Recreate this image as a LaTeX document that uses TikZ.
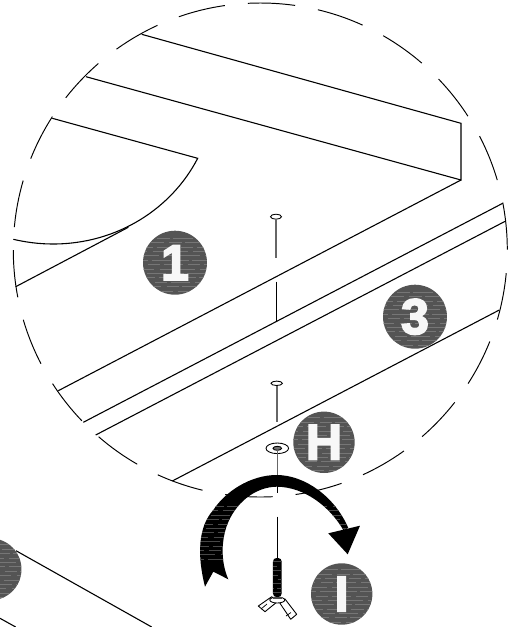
\documentclass[tikz,border=0pt]{standalone}
\usepackage{fontspec}
\usepackage{xcolor}
\usepackage{tikz}
\newfontfamily\badgefont[BoldFeatures={FakeBold=3.4}]{Liberation Sans}
\definecolor{badgegray}{RGB}{84,84,84}
\definecolor{streakgray}{RGB}{118,118,118}
\definecolor{arrowstreak}{RGB}{72,72,72}

\begin{document}
\begin{tikzpicture}[
  x=0.02cm, y=-0.02cm,
  edge/.style={line width=0.62pt, black},
  lens/.style={line width=0.55pt, black, dash pattern=on 0.9484cm off 0.4626cm, dash phase=0.9484cm},
  pin/.style={line width=0.8pt, black!60},
  streaks/.style={path picture={
    \foreach \s in {-16,-13.5,...,16}
      \draw[#1, line width=0.3pt, dash pattern=on 7pt off 2pt on 11pt off 3pt, dash phase=\s*2.7pt]
        ([yshift=\s pt]path picture bounding box.west) -- ([yshift=\s pt]path picture bounding box.east);
  }},
  badge/.style={circle, fill=badgegray, streaks=streakgray, text=white!97!black, inner sep=0pt, minimum size=#1*0.02cm,
    font=\badgefont\bfseries\fontsize{28.5}{28.5}\selectfont},
  wing/.style={draw=black, line width=0.5pt, fill=white, line join=round}
]
  \path[use as bounding box, clip] (0,0) rectangle (515,627);

  % the magnified circle
  \coordinate (lens) at (260.3,250);
  \draw[lens] (lens) circle[radius=247];

  % upper board
  \draw[edge] (141.7,34.3) -- (461,123.3) -- (461,180) -- (86,76.7);
  \draw[edge] (461,180) -- (58.3,390.7);
  \draw[edge] (52.3,118.3) -- (197.7,158.3)
    .. controls (172,208) and (118,244) .. (53,244)
    .. controls (38,244) and (25,242) .. (13.3,239.3);
  \draw[edge] (15.7,286.7) -- (128.3,227.3);

  % lower board
  \draw[edge] (83.3,422.3) -- (502.7,203.3);
  \draw[edge] (95.7,435) -- (505.7,221);
  \draw[edge] (172.3,481) -- (499.3,310);

  % next board, bottom left
  \draw[edge] (16,550.7) -- (151.7,627);
  \draw[edge] (0,618.3) -- (15.7,627);

  % holes and axis
  \draw[edge, line width=0.5pt] (276,216.7) ellipse[x radius=5.5, y radius=2.5];
  \draw[pin] (276,219.2) -- (276,258.3);
  \draw[edge] (276.3,281.7) -- (276.3,321.7);
  \draw[edge, line width=0.5pt] (276.7,383.3) ellipse[x radius=5.7, y radius=2.2];
  \draw[pin] (277,385.5) -- (277,421.7);

  % washer
  \draw[edge, line width=0.5pt] (277.3,448.3) ellipse[x radius=11.3, y radius=5.3];
  \draw[edge, line width=0.5pt, fill=black!55] (277.3,448.3) ellipse[x radius=4.3, y radius=2];
  \draw[pin] (277.3,450) -- (277.3,475);

  % turning arrow
  \fill[black, streaks=arrowstreak] (205,586.7) .. controls (197,555) and (198,527) .. (213.3,510)
    .. controls (225,492) and (250,475) .. (276.7,475)
    .. controls (305,475) and (335,497) .. (348.3,528)
    -- (343.3,530)
    .. controls (330,507) and (305,487) .. (276.7,486.7)
    .. controls (255,487) and (235,503) .. (226.7,526)
    .. controls (222,540) and (220,560) .. (228.3,579.3)
    -- (213.3,571.7) -- cycle;
  \fill[black] (328.3,533.3) -- (360,525.7) -- (347.7,554.3) -- cycle;
  \draw[edge] (277.3,475) -- (277.3,493.3);
  \draw[edge] (277.3,516.7) -- (277.3,558);

  % wing bolt
  \draw[wing] (258.3,606) -- (271.7,596.7) -- (277.3,601.7) -- (265,611.7) -- cycle;
  \draw[wing] (280,603.3) -- (285,599) -- (296.7,614.3) -- (290.7,619.3) -- cycle;
  \draw[black, line width=0.4pt] (261,609) -- (267,604) (291,612.5) -- (286,616);
  \fill[black, rounded corners=2pt, streaks=arrowstreak] (273,558) rectangle (281.7,597);
  \draw[wing] (277.3,600) ellipse[x radius=7.5, y radius=3];
  \fill[black!70] (273,597) rectangle (281.7,599);

  % part labels
  \node[badge=64] (one) at (175,262.7) {\bfseries 1};
  \node[badge=64] (three) at (415,316.7) {\bfseries 3};
  \node[badge=61.4] (washerH) at (324,442.3) {\bfseries H};
  \node[badge=61.4] (boltI) at (341.7,594) {\bfseries I};
  \node[badge=62] (nextpart) at (-9.5,569.3) {};
\end{tikzpicture}
\end{document}
